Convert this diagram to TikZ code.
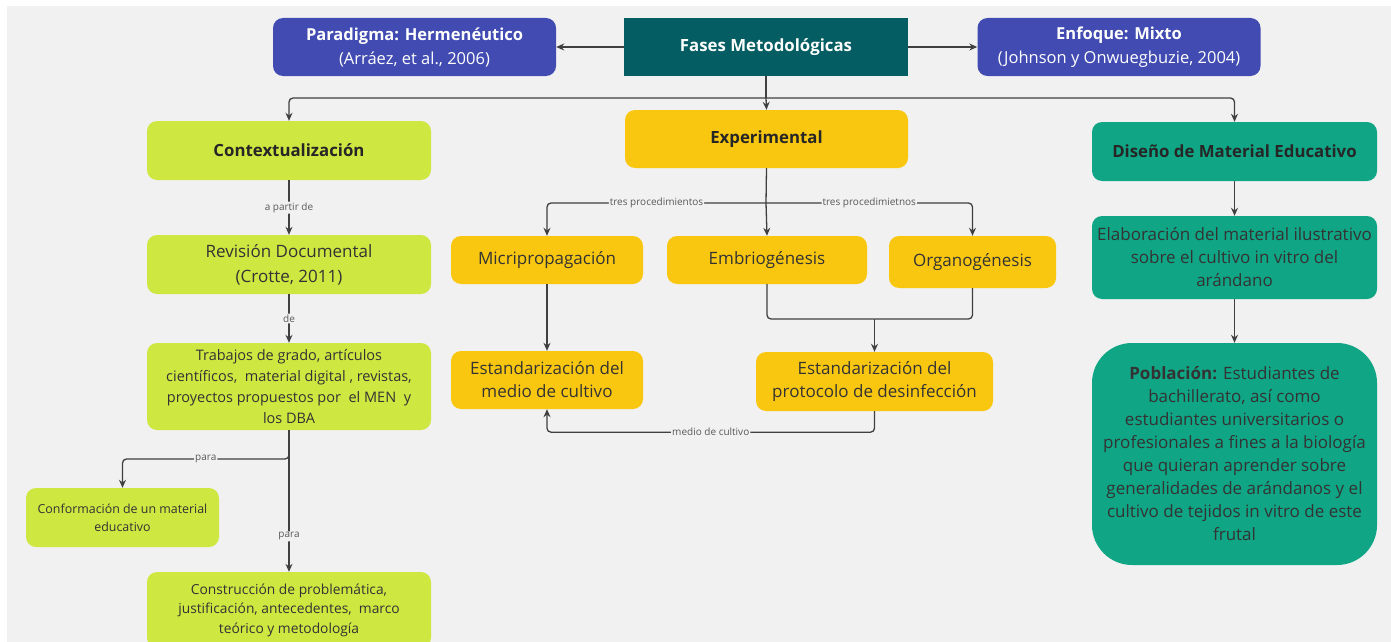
\documentclass[tikz,border=0pt]{standalone}
\usepackage{fontspec}
\setmainfont{Open Sans}
\usetikzlibrary{arrows.meta, positioning}

\definecolor{bgc}{HTML}{F1F1F1}
\definecolor{bluec}{HTML}{414BB2}
\definecolor{darkc}{HTML}{045D62}
\definecolor{limec}{HTML}{CFE741}
\definecolor{yelc}{HTML}{FAC710}
\definecolor{tealc}{HTML}{10A585}
\definecolor{linec}{HTML}{404040}
\definecolor{txtc}{HTML}{333333}

\begin{document}
\begin{tikzpicture}[x=1pt, y=-1pt,
  box/.style={rounded corners=10pt, align=center, inner sep=2pt, text=txtc,
    font=\fontsize{17}{23}\selectfont},
  bluebox/.style={box, fill=bluec, text=white, minimum width=283pt, minimum height=58pt,
    font=\fontsize{16.5}{24}\selectfont},
  limebox/.style={box, fill=limec},
  yelbox/.style={box, fill=yelc},
  tealbox/.style={box, fill=tealc},
  headbox/.style={minimum width=284pt, minimum height=59pt, text=black!85,
    font=\fontsize{16.8}{20}\selectfont\bfseries},
  arr/.style={draw=linec, line width=1.3pt, rounded corners=4pt, -{Stealth[length=8pt, width=7pt]}},
  link/.style={draw=linec, line width=1.3pt, rounded corners=4pt},
  lbl/.style={fill=bgc, inner sep=1pt, text=black!65, font=\fontsize{10}{12}\selectfont}]
\useasboundingbox (0,0) rectangle (1391,642);
\fill[white] (0,0) rectangle (1391,642);
\fill[bgc] (7,6) rectangle (1391,642);

% top row
\node[bluebox] (par) at (414.5,47) {\textbf{Paradigma: Hermenéutico}\\(Arráez, et al., 2006)};
\node[fill=darkc, text=white, minimum width=284pt, minimum height=58pt,
  font=\fontsize{16.8}{20}\selectfont\bfseries] (fases) at (766,47) {Fases Metodológicas};
\node[bluebox] (enf) at (1119,47) {\textbf{Enfoque: Mixto}\\(Johnson y Onwuegbuzie, 2004)};
\draw[arr] (fases.west) -- (par.east);
\draw[arr] (fases.east) -- (enf.west);

% phases
\node[limebox, headbox] (ctx) at (289,150.5) {Contextualización};
\node[yelbox, headbox, minimum width=283pt, minimum height=58pt] (exp) at (766.5,139) {Experimental};
\node[tealbox, headbox, minimum width=285pt] (dis) at (1234.5,151.5) {Diseño de Material Educativo};
\coordinate (fsplit) at (766,98);
\draw[link] (fases.south) -- (fsplit);
\draw[arr] (fsplit) -- (exp.north);
\draw[arr] (fsplit) -| (ctx.north);
\draw[arr] (fsplit) -| (dis.north);

% Contextualizacion
\node[limebox, minimum width=284pt, minimum height=59pt, font=\fontsize{17}{25}\selectfont] (rev) at (289,264.5) {Revisión Documental\\(Crotte, 2011)};
\node[limebox, minimum width=284pt, minimum height=87pt, font=\fontsize{14.5}{21}\selectfont] (trab) at (289,386.5)
  {Trabajos de grado, artículos\\científicos,\ \ material digital , revistas,\\proyectos propuestos por\ \ el MEN\ \ y\\los DBA};
\node[limebox, minimum width=193pt, minimum height=59pt, font=\fontsize{12.4}{18}\selectfont] (conf) at (122.5,517.5) {Conformación de un material\\educativo};
\node[limebox, minimum width=284pt, minimum height=76pt, font=\fontsize{13.8}{19.5}\selectfont] (cons) at (289,610)
  {Construcción de problemática,\\justificación, antecedentes,\ \ marco\\teórico y metodología};
\draw[arr] (ctx) -- node[lbl]{a partir de} (rev);
\draw[arr] (rev) -- node[lbl]{de} (trab);
\coordinate (tsplit) at (289,459);
\draw[arr] (trab.south) -- (tsplit) -| node[pos=0.25, lbl]{para} (conf.north);
\draw[arr] (trab.south) -- node[pos=0.75, lbl]{para} (cons.north);

% Experimental
\node[yelbox, minimum width=192pt, minimum height=48pt] (micro) at (547,260) {Micripropagación};
\node[yelbox, minimum width=200pt, minimum height=48pt] (emb) at (767,260) {Embriogénesis};
\node[yelbox, minimum width=167pt, minimum height=52pt] (org) at (972.5,262) {Organogénesis};
\node[yelbox, minimum width=192pt, minimum height=58pt] (estm) at (547,380) {Estandarización del\\medio de cultivo};
\node[yelbox, minimum width=237pt, minimum height=59pt] (estp) at (874.5,381.5) {Estandarización del\\protocolo de desinfección};
\coordinate (esplit) at (766,203);
\draw[link] (exp.south) -- (esplit);
\draw[arr] (esplit) -- (emb.north);
\draw[arr] (esplit) -| node[pos=0.25, lbl]{tres procedimientos} (micro.north);
\draw[arr] (esplit) -| node[pos=0.25, lbl]{tres procedimietnos} (org.north);
\draw[arr] (micro) -- (estm);
\coordinate (pjoin) at (874.5,319);
\draw[link] (emb.south) |- (pjoin);
\draw[link] (org.south) |- (pjoin);
\draw[arr] (pjoin) -- (estp.north);
\draw[arr] (estp.south) -- ++(0,21) -| node[pos=0.25, lbl]{medio de cultivo} (estm.south);

% Diseno
\node[tealbox, minimum width=285pt, minimum height=83pt] (ela) at (1234.5,257.5)
  {Elaboración del material ilustrativo\\sobre el cultivo in vitro del\\arándano};
\node[tealbox, rounded corners=40pt, minimum width=285pt, minimum height=222pt] (pob) at (1234.5,454)
  {\textbf{Población:} Estudiantes de\\bachillerato, así como\\estudiantes universitarios o\\profesionales a fines a la biología\\que quieran aprender sobre\\generalidades de arándanos y el\\cultivo de tejidos in vitro de este\\frutal};
\draw[arr] (dis) -- (ela);
\draw[arr] (ela) -- (pob);
\end{tikzpicture}
\end{document}
